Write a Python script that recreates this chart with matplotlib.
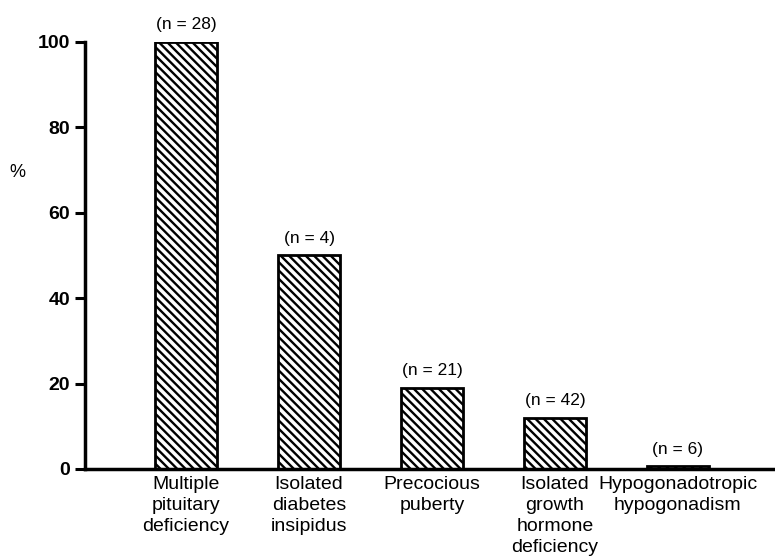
import matplotlib.pyplot as plt
import numpy as np

plt.rcParams['font.family'] = ['Liberation Sans', 'DejaVu Sans']
plt.rcParams['hatch.linewidth'] = 1.7

# data
categories = ['Multiple\npituitary\ndeficiency', 'Isolated\ndiabetes\ninsipidus',
              'Precocious\npuberty', 'Isolated\ngrowth\nhormone\ndeficiency',
              'Hypogonadotropic\nhypogonadism']
percent = [100, 50, 19, 12, 0.6]
n_labels = ['(n = 28)', '(n = 4)', '(n = 21)', '(n = 42)', '(n = 6)']
yticks = [0, 20, 40, 60, 80, 100]

fig = plt.figure(figsize=(7.75, 5.56), dpi=100)
ax = fig.add_axes([0.11, 0.1565, 0.89, 0.768])

x = np.arange(len(categories))
bars = ax.bar(x, percent, width=0.5, color='white', edgecolor='black',
              linewidth=2.0, hatch='\\\\\\\\', zorder=2)

for b, lab in zip(bars, n_labels):
    ax.annotate(lab, (b.get_x() + b.get_width() / 2, b.get_height()),
                xytext=(0, 7), textcoords='offset points',
                ha='center', va='bottom', fontsize=12.5)

ax.set_xlim(-0.82, 4.79)
ax.set_ylim(0, 100)
ax.set_yticks(yticks)
ax.set_yticklabels([str(t) for t in yticks], fontsize=14, fontweight='bold')
ax.set_xticks(x)
ax.set_xticklabels(categories, fontsize=14, linespacing=1.3)
ax.tick_params(axis='x', length=0, pad=5)
ax.tick_params(axis='y', length=7, width=2.2, pad=4)

for s in ['top', 'right']:
    ax.spines[s].set_visible(False)
for s in ['left', 'bottom']:
    ax.spines[s].set_linewidth(2.5)

fig.text(0.022, 0.69, '%', fontsize=13, ha='center', va='center')

fig.savefig('out.png', dpi=100)
